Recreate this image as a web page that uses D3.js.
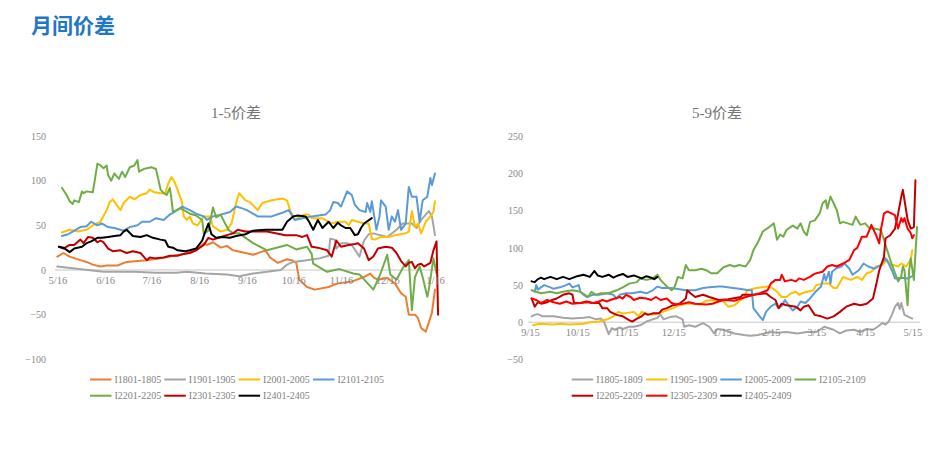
<!DOCTYPE html>
<html><head><meta charset="utf-8">
<script src="https://cdn.jsdelivr.net/npm/d3@7"></script>
<style>
html,body{margin:0;padding:0;background:#fff;}
svg{display:block;}
</style></head>
<body>
<svg id="c" width="949" height="453"></svg>
<script>
// ---------- DATA (x = days since the chart's start date, y = spread) ----------
const leftStart = "2023-05-16";
const leftTickDates = ["2023-05-16","2023-06-16","2023-07-16","2023-08-16","2023-09-16","2023-10-16","2023-11-16","2023-12-16","2024-01-16"];
const leftYTicks = [150,100,50,0,-50,-100];
const leftNames = ["I1801-1805","I1901-1905","I2001-2005","I2101-2105","I2201-2205","I2301-2305","I2401-2405"];
const leftColors = ["#ED7D31","#A5A5A5","#FFC000","#5B9BD5","#70AD47","#C00000","#000000"];

const I1801_1805 = [[0,15],[4,19],[8,15],[15,11],[19,9],[23,6],[28,4],[32,5],[39,5],[45,9],[52,10],[58,11],[67,13],[73,15],[82,18],[90,22],[95,30],[97,28],[101,31],[106,25],[110,27],[114,22],[122,19],[127,17],[135,22],[138,14],[143,8],[149,12],[152,11],[155,8],[157,-11],[162,-19],[167,-22],[176,-19],[182,-15],[191,-13],[200,-7],[203,-4],[205,-8],[208,-11],[214,-9],[219,-15],[223,-26],[226,-30],[228,-50],[232,-50],[234,-54],[236,-65],[239,-69],[240,-64],[243,-48],[245,-22]];
const I1901_1905 = [[0,4],[10,2],[20,0],[30,-2],[50,-2],[64,-3],[77,-3],[84,-2],[96,-4],[110,-5],[118,-7],[127,-4],[136,-2],[145,0],[149,6],[153,9],[162,11],[170,13],[176,16],[177,35],[180,34],[181,24],[184,30],[188,30],[191,28],[196,15],[199,33],[202,40],[205,41],[214,37],[220,45],[224,52],[230,52],[233,47],[236,56],[241,66],[243,60],[245,39]];
const I2001_2005 = [[3,42],[8,45],[13,43],[19,45],[23,50],[28,54],[32,67],[34,76],[36,79],[38,74],[41,67],[43,75],[47,82],[50,79],[54,84],[58,86],[60,90],[63,87],[67,86],[70,86],[72,97],[74,104],[76,99],[78,90],[81,75],[82,60],[84,56],[86,60],[88,52],[91,50],[95,60],[99,60],[101,49],[106,43],[110,45],[113,52],[116,75],[118,86],[122,78],[125,76],[130,67],[133,75],[139,78],[146,80],[149,78],[151,67],[154,56],[160,62],[163,62],[165,58],[172,58],[178,52],[182,54],[187,54],[189,50],[191,56],[195,54],[199,52],[202,52],[204,35],[206,34],[210,37],[215,37],[219,39],[226,41],[228,43],[230,66],[232,48],[234,52],[236,41],[239,54],[242,60],[244,65],[245,77]];
const I2101_2105 = [[3,38],[7,40],[10,43],[15,48],[19,49],[22,54],[26,50],[29,52],[33,48],[37,47],[43,44],[47,48],[52,50],[55,54],[60,54],[64,58],[69,56],[73,62],[76,65],[81,71],[86,67],[90,63],[95,60],[97,56],[101,60],[106,62],[112,65],[116,71],[120,69],[123,67],[126,64],[130,60],[139,60],[146,64],[150,67],[152,62],[154,56],[159,58],[165,60],[174,62],[177,67],[179,76],[182,75],[184,71],[188,88],[191,84],[193,73],[196,67],[200,65],[201,75],[203,65],[204,77],[207,45],[209,60],[210,78],[213,71],[215,45],[217,60],[219,54],[221,67],[223,45],[226,52],[228,93],[230,82],[233,82],[235,54],[237,78],[240,82],[242,103],[243,95],[245,108]];
const I2201_2205 = [[3,92],[6,84],[8,77],[10,74],[11,78],[14,76],[16,88],[17,86],[19,88],[23,87],[24,97],[26,119],[28,117],[30,114],[32,117],[33,106],[35,100],[37,108],[40,102],[42,110],[44,104],[47,115],[50,117],[52,123],[53,110],[56,113],[61,115],[64,113],[67,90],[69,86],[71,84],[73,92],[74,80],[75,65],[80,69],[82,67],[86,63],[90,61],[94,56],[95,41],[98,44],[101,70],[103,59],[106,62],[108,55],[111,45],[114,41],[118,41],[127,30],[136,22],[149,28],[155,23],[162,26],[165,18],[166,7],[175,-2],[183,1],[192,-4],[196,-5],[205,-22],[209,-7],[214,17],[216,-5],[220,-11],[224,2],[228,11],[230,-45],[232,-8],[235,4],[237,-8],[240,-30],[241,-22],[244,13],[246,-4]];
const I2301_2305 = [[1,26],[4,24],[8,28],[11,28],[15,34],[17,30],[20,37],[23,36],[26,31],[28,33],[30,31],[33,24],[36,21],[41,22],[45,19],[49,21],[54,19],[58,11],[60,14],[64,13],[69,14],[73,16],[78,16],[82,18],[86,19],[90,22],[95,28],[98,36],[101,34],[106,37],[110,39],[114,41],[117,45],[122,43],[130,43],[136,43],[148,39],[155,39],[159,37],[162,39],[165,26],[169,25],[175,22],[178,15],[181,33],[184,26],[189,28],[193,29],[195,30],[199,24],[202,11],[205,15],[208,24],[213,26],[217,25],[220,19],[223,10],[226,4],[228,8],[230,9],[232,2],[234,6],[236,7],[238,4],[242,8],[244,22],[246,32],[247,-50]];
const I2401_2405 = [[1,26],[4,25],[8,20],[11,24],[16,26],[19,30],[22,32],[26,36],[29,36],[33,37],[37,38],[41,39],[43,43],[45,45],[49,38],[54,37],[58,39],[62,36],[67,34],[70,33],[72,26],[75,25],[78,22],[83,21],[86,22],[90,24],[94,33],[96,43],[98,52],[100,40],[103,36],[107,37],[112,36],[116,38],[122,40],[127,44],[135,45],[146,45],[149,54],[153,60],[156,61],[161,60],[163,55],[166,45],[169,56],[172,47],[176,54],[179,47],[182,53],[184,50],[187,47],[190,47],[193,39],[195,40],[197,47],[199,52],[204,58]];

const rightStart = "2023-09-15";
const rightTickDates = ["2023-09-15","2023-10-15","2023-11-15","2023-12-15","2024-01-15","2024-02-15","2024-03-15","2024-04-15","2024-05-15"];
const rightYTicks = [250,200,150,100,50,0,-50];
const rightNames = ["I1805-1809","I1905-1909","I2005-2009","I2105-2109","I2205-2209","I2305-2309","I2405-2409"];
const rightColors = ["#A5A5A5","#FFC000","#5B9BD5","#70AD47","#C00000","#FF0000","#000000"];

const I1805_1809 = [[1,8],[3,10],[5,11],[8,8],[15,8],[21,6],[27,5],[34,6],[38,7],[42,4],[45,5],[47,1],[50,-16],[52,-8],[54,-10],[57,-7],[59,-9],[63,-6],[66,-6],[70,-4],[74,1],[78,4],[81,6],[83,10],[85,4],[89,7],[93,8],[97,4],[98,-6],[101,-4],[105,-6],[110,-1],[114,-6],[117,-15],[119,-9],[123,-10],[130,-15],[136,-17],[140,-18],[145,-17],[149,-15],[153,-13],[157,-14],[163,-13],[170,-15],[176,-13],[182,-13],[187,-6],[190,-8],[193,-10],[197,-15],[201,-11],[206,-10],[210,-13],[214,-9],[218,-10],[221,-6],[224,-1],[226,-3],[228,1],[230,10],[232,21],[234,26],[235,18],[236,26],[238,10],[240,8],[243,5]];
const I1905_1909 = [[2,-4],[6,-2],[15,-3],[19,-2],[25,-3],[34,-2],[38,0],[44,1],[49,4],[53,8],[56,14],[59,12],[63,13],[66,14],[69,8],[71,14],[74,12],[78,10],[82,12],[87,16],[91,19],[95,23],[99,25],[103,25],[108,24],[112,29],[116,30],[120,28],[122,30],[126,21],[130,23],[134,30],[136,34],[138,43],[144,46],[151,48],[154,46],[157,41],[160,34],[163,34],[166,39],[169,41],[171,37],[173,39],[176,41],[180,43],[182,50],[186,52],[190,52],[193,46],[195,46],[199,61],[201,59],[204,57],[208,61],[211,57],[214,66],[217,68],[220,75],[224,77],[227,84],[229,77],[231,77],[234,75],[236,79],[239,75],[242,84],[243,97]];
const I2005_2009 = [[3,41],[4,50],[5,44],[7,47],[9,50],[13,47],[15,45],[19,47],[23,50],[25,52],[27,47],[31,50],[32,41],[34,37],[36,34],[40,37],[44,37],[49,39],[53,37],[55,32],[57,37],[61,39],[65,39],[70,41],[74,39],[78,43],[81,48],[84,46],[89,46],[93,45],[99,43],[105,43],[110,46],[114,47],[120,48],[122,48],[129,46],[133,45],[139,43],[141,43],[142,19],[146,8],[148,3],[150,14],[153,21],[156,25],[158,19],[160,22],[162,30],[165,21],[167,16],[170,21],[172,28],[175,26],[178,32],[181,40],[185,48],[187,65],[188,56],[190,68],[191,52],[192,68],[195,73],[198,75],[200,79],[203,72],[205,64],[207,67],[209,70],[212,79],[215,75],[219,72],[223,77],[226,86],[228,79],[230,70],[232,59],[236,60],[240,59],[243,62]];
const I2105_2109 = [[1,43],[4,41],[7,39],[13,41],[17,39],[21,41],[27,43],[32,41],[35,37],[37,34],[39,41],[42,37],[45,39],[50,39],[55,43],[59,47],[63,52],[68,54],[70,59],[74,57],[78,59],[81,64],[83,57],[87,48],[90,43],[92,48],[94,61],[97,59],[98,68],[99,77],[101,70],[105,70],[109,72],[112,70],[115,66],[119,66],[121,70],[123,74],[127,77],[130,75],[133,77],[137,75],[140,84],[142,97],[145,108],[148,122],[152,128],[155,133],[157,111],[159,118],[161,115],[163,124],[167,130],[170,126],[172,133],[174,122],[176,117],[178,135],[181,137],[184,146],[186,160],[188,164],[189,153],[191,169],[193,160],[195,151],[197,133],[199,135],[202,133],[205,131],[207,142],[210,131],[213,133],[216,126],[219,126],[223,124],[225,111],[227,97],[229,84],[232,66],[234,55],[236,62],[237,75],[238,70],[240,23],[241,70],[242,86],[244,57],[246,128]];
const I2205_2209 = [[1,32],[3,21],[5,27],[7,25],[11,27],[14,30],[17,32],[21,37],[25,39],[27,37],[28,26],[32,26],[36,28],[40,26],[44,26],[46,19],[49,19],[51,14],[55,10],[59,8],[63,3],[65,1],[68,5],[71,8],[73,12],[75,10],[78,12],[82,12],[84,17],[87,19],[91,23],[95,25],[99,32],[100,43],[102,39],[105,34],[110,37],[114,34],[120,30],[126,31],[134,34],[135,37],[142,37],[150,39],[153,34],[156,30],[158,19],[160,25],[163,23],[169,21],[172,16],[174,21],[177,23],[181,10],[185,8],[189,5],[193,8],[197,14],[201,21],[206,25],[210,23],[214,25],[218,32],[220,50],[222,70],[225,88],[226,113],[229,117],[232,126],[234,146],[236,169],[237,178],[240,138],[242,126],[244,128],[245,191]];
const I2305_2309 = [[1,32],[4,30],[7,26],[11,30],[15,27],[19,25],[23,28],[27,25],[32,26],[36,27],[40,26],[44,28],[46,30],[49,28],[51,30],[54,32],[57,34],[59,32],[61,37],[64,34],[66,30],[70,33],[74,32],[77,30],[80,34],[83,30],[87,32],[90,26],[93,24],[97,25],[101,27],[105,25],[112,24],[116,25],[120,28],[123,30],[130,29],[134,32],[139,35],[146,39],[151,43],[153,52],[156,57],[159,57],[160,64],[162,55],[166,57],[169,55],[171,59],[174,57],[178,61],[180,64],[182,66],[186,68],[189,75],[192,77],[195,75],[199,79],[203,84],[206,97],[208,100],[211,115],[214,115],[217,131],[220,117],[222,106],[223,124],[225,146],[227,149],[232,144],[234,126],[236,140],[237,135],[238,140],[240,126],[242,120],[243,113],[244,117]];
const I2405_2409 = [[1,55],[3,54],[5,58],[7,60],[9,58],[13,61],[17,58],[21,61],[25,58],[30,62],[34,64],[38,61],[41,69],[43,63],[46,61],[50,64],[53,60],[56,63],[59,65],[62,61],[66,63],[71,59],[74,62],[77,60],[79,58],[81,61]];

const leftSeries = [I1801_1805,I1901_1905,I2001_2005,I2101_2105,I2201_2205,I2301_2305,I2401_2405];
const rightSeries = [I1805_1809,I1905_1909,I2005_2009,I2105_2109,I2205_2209,I2305_2309,I2405_2409];

// ---------- DRAWING ----------
const svg = d3.select("#c");
const parse = d3.timeParse("%Y-%m-%d");
const fmt = d3.timeFormat("%-m/%-d");
const serif = "'Liberation Serif','DejaVu Serif',serif";
const labelColor = "#898989";

svg.append("text").attr("x",31).attr("y",33)
  .attr("font-family","'Noto Sans CJK SC',sans-serif").attr("font-weight","bold")
  .attr("font-size",21).attr("fill","#1f78c1").text("月间价差");

function drawChart(cfg){
  const start = parse(cfg.start);
  const ticks = cfg.ticks.map(parse);
  const x = d3.scaleTime().domain([ticks[0], ticks[ticks.length-1]]).range(cfg.xr);
  const y = d3.scaleLinear().domain(cfg.yd).range(cfg.yr);
  const g = svg.append("g");

  g.append("text").attr("x",cfg.titleX).attr("y",118).attr("text-anchor","middle")
    .attr("font-family",serif+",'Noto Sans CJK SC'").attr("font-size",15).attr("fill","#757575")
    .text(cfg.title);

  // y axis labels
  const ya = d3.axisLeft(y).tickValues(cfg.yticks).tickSize(0).tickPadding(0);
  const yg = g.append("g").attr("transform",`translate(${cfg.yLabelX},0)`).call(ya);
  yg.select(".domain").remove();
  yg.selectAll("text").attr("font-family",serif).attr("font-size",10).attr("fill",labelColor);

  // zero line
  g.append("line").attr("x1",cfg.zeroX[0]).attr("x2",cfg.zeroX[1])
    .attr("y1",y(0)).attr("y2",y(0)).attr("stroke","#d9d9d9").attr("stroke-width",1.5);

  // series
  const line = d3.line()
    .x(d=>x(d3.timeDay.offset(start,d[0])))
    .y(d=>y(d[1]));
  cfg.series.forEach((s,i)=>{
    g.append("path").datum(s).attr("d",line).attr("fill","none")
      .attr("stroke",cfg.colors[i]).attr("stroke-width",2)
      .attr("stroke-linejoin","round").attr("stroke-linecap","round");
  });

  // x axis labels (on top of lines, like the original)
  const xa = d3.axisBottom(x).tickValues(ticks).tickFormat(fmt).tickSize(0).tickPadding(0);
  const xg = g.append("g").attr("transform",`translate(0,${y(0)+6.5})`).call(xa);
  xg.select(".domain").remove();
  xg.selectAll("text").attr("font-family",serif).attr("font-size",10.5).attr("fill",labelColor)
    .attr("dy","0.71em");

  // legend
  cfg.names.forEach((n,i)=>{
    const row = Math.floor(i/4), col = i%4;
    const lx = cfg.legX + col*74.3, ly = 379.5 + row*16.2;
    g.append("line").attr("x1",lx).attr("x2",lx+21.5).attr("y1",ly).attr("y2",ly)
      .attr("stroke",cfg.colors[i]).attr("stroke-width",2);
    g.append("text").attr("x",lx+24.5).attr("y",ly).attr("dy","0.35em")
      .attr("font-family",serif).attr("font-size",10).attr("fill","#7f7f7f").text(n);
  });
}

drawChart({start:leftStart, ticks:leftTickDates, xr:[57.3,435], yd:[-100,150], yr:[359.3,136],
  yticks:leftYTicks, yLabelX:46, zeroX:[55,440], title:"1-5价差", titleX:236,
  series:leftSeries, colors:leftColors, names:leftNames, legX:90});
drawChart({start:rightStart, ticks:rightTickDates, xr:[530,912.3], yd:[-50,250], yr:[359.5,136.3],
  yticks:rightYTicks, yLabelX:523, zeroX:[528,920], title:"5-9价差", titleX:717,
  series:rightSeries, colors:rightColors, names:rightNames, legX:571.7});
</script>
</body></html>
